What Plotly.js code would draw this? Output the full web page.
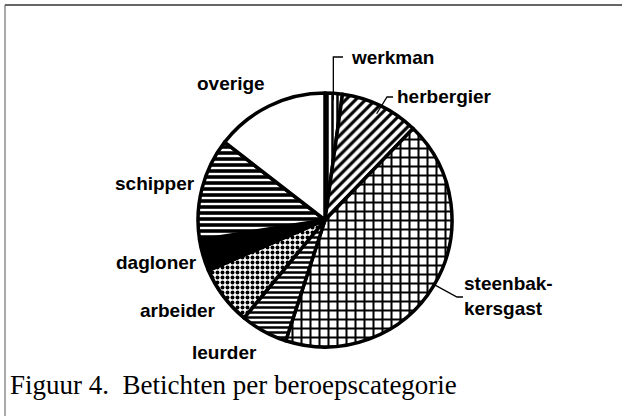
<!DOCTYPE html>
<html>
<head>
<meta charset="utf-8">
<script src="https://cdn.plot.ly/plotly-3.0.1.min.js"></script>
<style>html,body{margin:0;padding:0;background:#fff;}#chart{width:622px;height:416px;}</style>
</head>
<body>
<div id="chart"></div>
<script>
// Data (percent share per category)
const categories = ["werkman", "herbergier", "steenbakkersgast", "leurder", "arbeider", "dagloner", "schipper", "overige"];
const labelTexts = ["werkman", "herbergier", "steenbak-<br>kersgast", "leurder", "arbeider", "dagloner", "schipper", "overige"];
const values = [2.2, 10.0, 42.8, 6.0, 7.5, 4.0, 13.0, 14.5];
const patterns = ["|", "/", "+", "-", ".", "", "-", ""];
const fills = ["#ffffff", "#ffffff", "#ffffff", "#ffffff", "#ffffff", "#000000", "#ffffff", "#ffffff"];
const patternSizes = [5, 7, 9, 5, 5, 6, 6, 6];
const patternSolidity = [0.5, 0.45, 0.4, 0.5, 0.5, 0.3, 0.6, 0.3];
const titleText = "Figuur 4.&nbsp;&nbsp;Betichten per beroepscategorie";

const W = 622, H = 416;
const px = x => x / W;
const py = y => 1 - y / H;
const cx = 325, cy = 220, R = 127;

// label text positions (pixel)
const labelPos = {
  "werkman": [392, 58],
  "herbergier": [444, 96],
  "steenbakkersgast": [508, 296],
  "leurder": [224, 352],
  "arbeider": [178, 310],
  "dagloner": [156, 262],
  "schipper": [155, 183],
  "overige": [231, 83]
};

// edge points computed from data
const total = values.reduce((a, b) => a + b, 0);
let acc = 0;
const mids = values.map(v => { const m = (acc + v / 2) / total * 360; acc += v; return m; });
function edge(i, f) {
  const a = mids[i] * Math.PI / 180;
  return [cx + R * f * Math.sin(a), cy - R * f * Math.cos(a)];
}

const annotations = categories.map((c, i) => ({
  x: px(labelPos[c][0]), y: py(labelPos[c][1]), xref: "paper", yref: "paper",
  text: "<b>" + labelTexts[i] + "</b>", showarrow: false, xanchor: "center", yanchor: "middle",
  font: {family: "Liberation Sans, Arial, sans-serif", size: 19, color: "#000"},
  align: "left"
}));

const w0 = edge(0, 0.95);
const h0 = edge(1, 0.93);
const s0 = edge(2, 1.0);
const shapes = [
  // frame
  {type: "line", xref: "paper", yref: "paper", x0: px(5), y0: py(5), x1: 1, y1: py(5), line: {color: "#333", width: 1.5}},
  {type: "line", xref: "paper", yref: "paper", x0: px(5), y0: py(5), x1: px(5), y1: 0, line: {color: "#555", width: 1}},
  // leaders
  {type: "path", xref: "paper", yref: "paper",
   path: `M ${px(343)} ${py(57)} L ${px(w0[0])} ${py(57)} L ${px(w0[0])} ${py(w0[1])}`,
   line: {color: "#000", width: 1.3}},
  {type: "path", xref: "paper", yref: "paper",
   path: `M ${px(393)} ${py(97)} L ${px(387)} ${py(97)} L ${px(h0[0])} ${py(h0[1])}`,
   line: {color: "#000", width: 1.3}},
  {type: "path", xref: "paper", yref: "paper",
   path: `M ${px(s0[0]-2)} ${py(s0[1]-2)} L ${px(457)} ${py(297)} L ${px(463)} ${py(297)}`,
   line: {color: "#000", width: 1.3}}
];

const trace = {
  type: "pie",
  labels: categories,
  values: values,
  sort: false,
  direction: "clockwise",
  rotation: 0,
  textinfo: "none",
  hoverinfo: "label+percent",
  showlegend: false,
  domain: {x: [px(cx - R), px(cx + R)], y: [py(cy + R), py(cy - R)]},
  marker: {
    colors: fills,
    line: {color: "#000", width: 3.5},
    pattern: {shape: patterns, fgcolor: "#000", fgopacity: 1, bgcolor: fills, size: patternSizes, solidity: patternSolidity, fillmode: "overlay"}
  }
};

const layout = {
  width: W, height: H,
  margin: {l: 0, r: 0, t: 0, b: 0},
  paper_bgcolor: "#fff", plot_bgcolor: "#fff",
  showlegend: false,
  title: {
    text: titleText, x: px(10), xanchor: "left", y: py(385), yanchor: "middle",
    xref: "paper", yref: "paper",
    font: {family: "Liberation Serif, Times New Roman, serif", size: 27, color: "#000"}
  },
  annotations: annotations,
  shapes: shapes
};

Plotly.newPlot("chart", [trace], layout, {displayModeBar: false, staticPlot: true});
</script>
</body>
</html>
